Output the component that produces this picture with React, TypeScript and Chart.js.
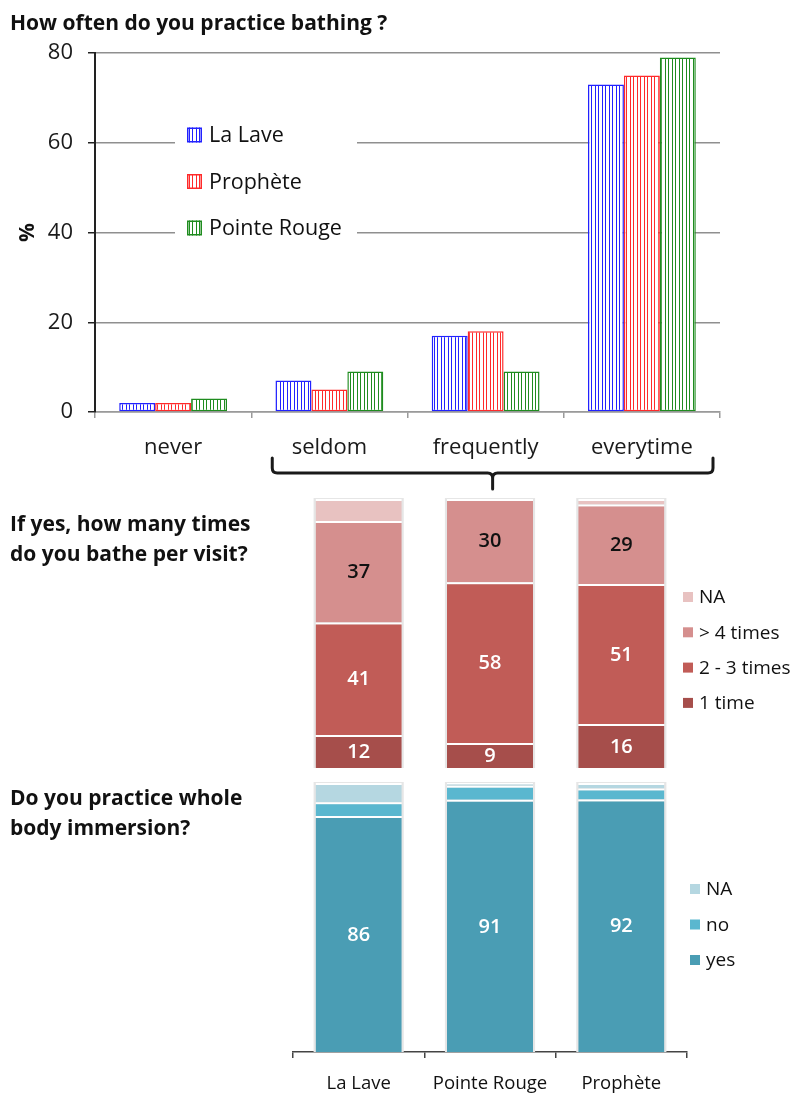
import React, { useEffect, useRef } from "react";
import { Chart, registerables } from "chart.js";

Chart.register(...registerables);

const FONT = "'Open Sans', Lato, sans-serif";

// ---------- Chart 1: How often do you practice bathing ? ----------
const freqCategories = ["never", "seldom", "frequently", "everytime"];
const freqSites = ["La Lave", "Prophète", "Pointe Rouge"];
const freqLaLave = [2, 7, 17, 73];
const freqProphete = [2, 5, 18, 75];
const freqPointeRouge = [3, 9, 9, 79];
const freqColors = ["#2222ff", "#ff2a2a", "#1f8c1f"];
const freqYTicks = [0, 20, 40, 60, 80];

// ---------- Chart 2: times per visit ----------
const siteCategories = ["La Lave", "Pointe Rouge", "Prophète"];
const timesOne = [12, 9, 16];
const timesTwoThree = [41, 58, 51];
const timesMoreFour = [37, 30, 29];
const timesNA = [8, 0, 2];
const timesLabels = ["1 time", "2 - 3 times", "> 4 times", "NA"];
const timesColors = ["#a64e4b", "#c15c57", "#d58f8e", "#e8c2c1"];

// ---------- Chart 3: whole body immersion ----------
const immYes = [86, 91, 92];
const immNo = [5, 5, 4];
const immNA = [7, 1, 2];
const immLabels = ["yes", "no", "NA"];
const immColors = ["#4a9db4", "#5ab7cf", "#b5d7e1"];

function toPercent(series: number[][]): number[][] {
  const totals = series[0].map((_, i) => series.reduce((s, arr) => s + arr[i], 0));
  return series.map((arr) => arr.map((v, i) => (totals[i] ? (v / totals[i]) * 100 : 0)));
}

function stripePattern(color: string): CanvasPattern | string {
  const c = document.createElement("canvas");
  c.width = 7;
  c.height = 4;
  const g = c.getContext("2d");
  if (!g) return color;
  g.fillStyle = "#ffffff";
  g.fillRect(0, 0, 7, 4);
  g.fillStyle = color;
  g.fillRect(0, 0, 1, 4);
  g.fillRect(3, 0, 1, 4);
  return g.createPattern(c, "repeat") || color;
}

const freqDecorPlugin = {
  id: "freqDecor",
  afterDatasetsDraw(chart: any) {
    const { ctx, chartArea } = chart;
    const left = chartArea.left + 80;
    const top = chartArea.top + 58;
    ctx.save();
    ctx.fillStyle = "#ffffff";
    ctx.fillRect(left, top, 182, 142);
    chart.data.datasets.forEach((ds: any, i: number) => {
      const cy = chartArea.top + 82 + i * 46.5;
      const sx = left + 12;
      ctx.fillStyle = ds.backgroundColor;
      ctx.fillRect(sx, cy - 7.5, 15, 15);
      ctx.strokeStyle = ds.borderColor;
      ctx.lineWidth = 1.5;
      ctx.strokeRect(sx + 0.75, cy - 6.75, 13.5, 13.5);
      ctx.fillStyle = "#111111";
      ctx.font = `21.5px ${FONT}`;
      ctx.textAlign = "left";
      ctx.textBaseline = "middle";
      ctx.fillText(ds.label, left + 34, cy + 1);
    });
    ctx.restore();
  },
  afterDraw(chart: any) {
    const { ctx, chartArea, scales } = chart;
    const x = scales.x;
    const boundary = (x.getPixelForValue(0) + x.getPixelForValue(1)) / 2;
    const l = boundary + 21;
    const r = chartArea.right - 7;
    const c = (l + r) / 2;
    const yTop = chartArea.bottom + 46;
    const yH = chartArea.bottom + 61;
    const tip = chartArea.bottom + 77;
    const k = 5;
    ctx.save();
    ctx.strokeStyle = "#1a1a1a";
    ctx.lineWidth = 3;
    ctx.lineJoin = "round";
    ctx.lineCap = "round";
    ctx.beginPath();
    ctx.moveTo(l, yTop);
    ctx.lineTo(l, yH - k);
    ctx.quadraticCurveTo(l, yH, l + k, yH);
    ctx.lineTo(c - k, yH);
    ctx.quadraticCurveTo(c, yH, c, yH + k);
    ctx.lineTo(c, tip);
    ctx.moveTo(c, yH + k);
    ctx.quadraticCurveTo(c, yH, c + k, yH);
    ctx.lineTo(r - k, yH);
    ctx.quadraticCurveTo(r, yH, r, yH - k);
    ctx.lineTo(r, yTop);
    ctx.stroke();
    ctx.restore();
  },
};

const stackShadowPlugin = {
  id: "stackShadow",
  beforeDatasetsDraw(chart: any) {
    const { ctx } = chart;
    const n = chart.data.labels.length;
    ctx.save();
    ctx.fillStyle = "#e6e6e6";
    for (let i = 0; i < n; i++) {
      let top = Infinity;
      let bottom = -Infinity;
      let cx = 0;
      let w = 0;
      chart.data.datasets.forEach((_: any, di: number) => {
        const el: any = chart.getDatasetMeta(di).data[i];
        if (!el) return;
        top = Math.min(top, el.y, el.base);
        bottom = Math.max(bottom, el.base, el.y);
        cx = el.x;
        w = el.width;
      });
      ctx.fillRect(cx - w / 2 - 2, top - 1, w + 4, bottom - top + 1);
    }
    ctx.restore();
  },
};

const stackLabelPlugin = {
  id: "stackLabels",
  afterDatasetsDraw(chart: any) {
    const { ctx } = chart;
    ctx.save();
    ctx.font = `600 20px ${FONT}`;
    ctx.textAlign = "center";
    ctx.textBaseline = "middle";
    chart.data.datasets.forEach((ds: any, di: number) => {
      if (!ds.valueLabels) return;
      const meta = chart.getDatasetMeta(di);
      meta.data.forEach((el: any, i: number) => {
        ctx.fillStyle = ds.labelColor;
        ctx.fillText(String(ds.valueLabels[i]), el.x, (el.y + el.base) / 2 + 1);
      });
    });
    ctx.restore();
  },
};

const sideLegendPlugin = {
  id: "sideLegend",
  afterDraw(chart: any, _args: any, opts: any) {
    if (!opts || !opts.items) return;
    const { ctx, chartArea } = chart;
    ctx.save();
    ctx.font = `19px ${FONT}`;
    ctx.textAlign = "left";
    ctx.textBaseline = "middle";
    opts.items.forEach((it: any, i: number) => {
      const cy = chartArea.top + opts.y0 + i * opts.step;
      const sx = chartArea.right + opts.dx;
      ctx.fillStyle = it.color;
      ctx.fillRect(sx, cy - 5, 10, 10);
      ctx.fillStyle = "#111111";
      ctx.fillText(it.label, sx + opts.textGap, cy + 1);
    });
    ctx.restore();
  },
};

function stackedConfig(
  series: number[][],
  labels: string[],
  colors: string[],
  labelled: boolean[],
  labelColors: string[],
  legend: any,
  showAxis: boolean,
  padding: any,
  axisHeight: number
): any {
  const pct = toPercent(series);
  return {
    type: "bar",
    data: {
      labels: siteCategories,
      datasets: pct.map((d, i) => ({
        label: labels[i],
        data: d,
        backgroundColor: colors[i],
        borderColor: "#ffffff",
        borderWidth: { top: 2, left: 0, right: 0, bottom: 0 },
        borderSkipped: false,
        categoryPercentage: 0.656,
        barPercentage: 1,
        valueLabels: labelled[i] ? series[i] : null,
        labelColor: labelColors[i],
      })),
    },
    options: {
      responsive: false,
      animation: false,
      layout: { padding },
      plugins: {
        legend: { display: false },
        tooltip: { enabled: false },
        sideLegend: legend,
      },
      scales: {
        x: {
          stacked: true,
          display: showAxis,
          grid: { drawOnChartArea: false, drawTicks: true, tickLength: 6, color: "#444444", lineWidth: 1.5, offset: true },
          border: { display: true, color: "#444444", width: 1.5 },
          ticks: { font: { family: FONT, size: 18.5 }, color: "#111111", padding: 15 },
          afterFit(s: any) {
            s.height = axisHeight;
          },
        },
        y: { stacked: true, display: false, min: 0, max: 100 },
      },
    },
    plugins: [stackShadowPlugin, stackLabelPlugin, sideLegendPlugin],
  };
}

export default function App() {
  const c1 = useRef<HTMLCanvasElement | null>(null);
  const c2 = useRef<HTMLCanvasElement | null>(null);
  const c3 = useRef<HTMLCanvasElement | null>(null);

  useEffect(() => {
    const charts: Chart[] = [];
    const freqSeries = [freqLaLave, freqProphete, freqPointeRouge];
    if (c1.current) {
      charts.push(
        new Chart(c1.current, {
          type: "bar",
          data: {
            labels: freqCategories,
            datasets: freqSeries.map((d, i) => ({
              label: freqSites[i],
              data: d,
              backgroundColor: stripePattern(freqColors[i]) as any,
              borderColor: freqColors[i],
              borderWidth: 1.5,
              borderSkipped: false,
              categoryPercentage: 0.69,
              barPercentage: 1,
            })),
          },
          options: {
            responsive: false,
            animation: false,
            layout: { padding: { left: 0, top: 53, right: 73, bottom: 23 } },
            plugins: { legend: { display: false }, tooltip: { enabled: false } },
            scales: {
              x: {
                grid: { drawOnChartArea: false, drawTicks: true, tickLength: 6, color: "#9a9a9a", lineWidth: 1.5, offset: true },
                border: { display: true, color: "#9a9a9a", width: 1.5 },
                ticks: { font: { family: FONT, size: 22 }, color: "#1a1a1a", padding: 17 },
                afterFit(s: any) {
                  s.height = 60;
                },
              },
              y: {
                min: freqYTicks[0],
                max: freqYTicks[freqYTicks.length - 1],
                afterBuildTicks(s: any) {
                  s.ticks = freqYTicks.map((v) => ({ value: v }));
                },
                ticks: { font: { family: FONT, size: 22 }, color: "#1a1a1a", padding: 15 },
                grid: { color: "#8f8f8f", lineWidth: 1.5, tickLength: 7, tickColor: "#222222" },
                border: { display: true, color: "#222222", width: 2 },
                title: {
                  display: true,
                  text: "%",
                  font: { family: FONT, size: 21, weight: "bold" },
                  color: "#111111",
                  padding: { top: 15, bottom: 0 },
                },
                afterFit(s: any) {
                  s.width = 95;
                },
              },
            },
          },
          plugins: [freqDecorPlugin],
        } as any)
      );
    }
    if (c2.current) {
      charts.push(
        new Chart(
          c2.current,
          stackedConfig(
            [timesOne, timesTwoThree, timesMoreFour, timesNA],
            timesLabels,
            timesColors,
            [true, true, true, false],
            ["#ffffff", "#ffffff", "#111111", "#111111"],
            {
              items: [3, 2, 1, 0].map((i) => ({ label: timesLabels[i], color: timesColors[i] })),
              y0: 98,
              step: 35.3,
              dx: -4,
              textGap: 16,
            },
            false,
            { left: 293, right: 106, top: 4, bottom: 7 },
            0
          )
        )
      );
    }
    if (c3.current) {
      charts.push(
        new Chart(
          c3.current,
          stackedConfig(
            [immYes, immNo, immNA],
            immLabels,
            immColors,
            [true, false, false],
            ["#ffffff", "#111111", "#111111"],
            {
              items: [2, 1, 0].map((i) => ({ label: immLabels[i], color: immColors[i] })),
              y0: 106,
              step: 35.5,
              dx: 3,
              textGap: 16,
            },
            true,
            { left: 293, right: 106, top: 8, bottom: 0 },
            41
          )
        )
      );
    }
    return () => charts.forEach((c) => c.destroy());
  }, []);

  const titleStyle: React.CSSProperties = {
    position: "absolute",
    left: 10,
    fontFamily: FONT,
    fontWeight: 700,
    color: "#111111",
    whiteSpace: "nowrap",
    zIndex: 2,
  };

  return (
    <div style={{ position: "absolute", left: 0, top: 0, width: 793, height: 1093, background: "#ffffff", overflow: "hidden" }}>
      <canvas ref={c1} width={793} height={495} style={{ position: "absolute", left: 0, top: 0, width: 793, height: 495 }} />
      <canvas ref={c2} width={793} height={280} style={{ position: "absolute", left: 0, top: 495, width: 793, height: 280 }} />
      <canvas ref={c3} width={793} height={318} style={{ position: "absolute", left: 0, top: 775, width: 793, height: 318 }} />
      <div style={{ ...titleStyle, top: 9, fontSize: 21, lineHeight: "26px" }}>How often do you practice bathing ?</div>
      <div style={{ ...titleStyle, top: 508, fontSize: 21, lineHeight: "30px" }}>
        If yes, how many times
        <br />
        do you bathe per visit?
      </div>
      <div style={{ ...titleStyle, top: 782, fontSize: 21, lineHeight: "30px" }}>
        Do you practice whole
        <br />
        body immersion?
      </div>
    </div>
  );
}
